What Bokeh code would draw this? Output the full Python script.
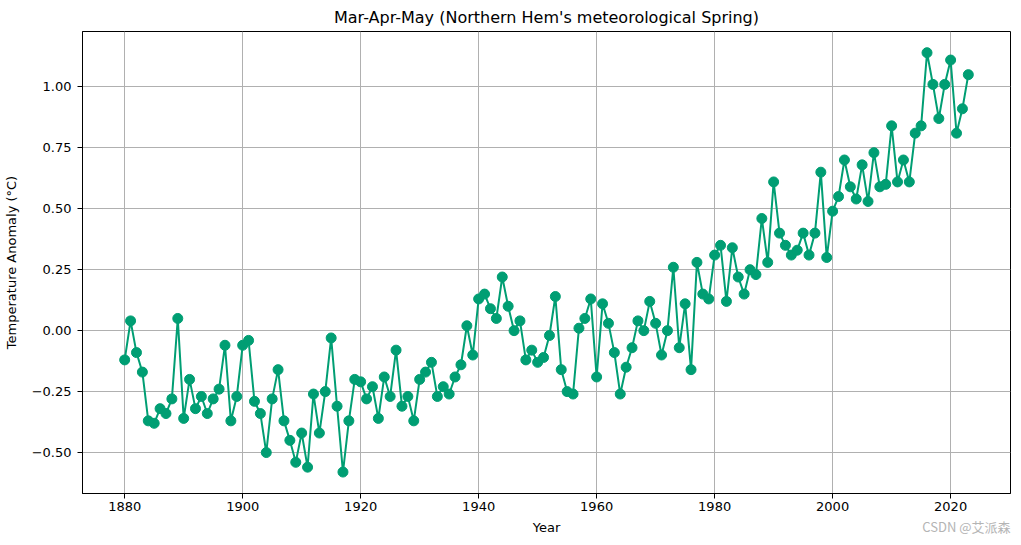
from bokeh.plotting import figure
from bokeh.models import FixedTicker, Range1d, Title
from bokeh.embed import file_html
from bokeh.resources import INLINE

years = list(range(1880, 2024))
anomaly = [
    -0.12, 0.04, -0.09, -0.17, -0.37, -0.38, -0.32, -0.34, -0.28, 0.05,
    -0.36, -0.20, -0.32, -0.27, -0.34, -0.28, -0.24, -0.06, -0.37, -0.27,
    -0.06, -0.04, -0.29, -0.34, -0.50, -0.28, -0.16, -0.37, -0.45, -0.54,
    -0.42, -0.56, -0.26, -0.42, -0.25, -0.03, -0.31, -0.58, -0.37, -0.20,
    -0.21, -0.28, -0.23, -0.36, -0.19, -0.27, -0.08, -0.31, -0.27, -0.37,
    -0.20, -0.17, -0.13, -0.27, -0.23, -0.26, -0.19, -0.14, 0.02, -0.10,
    0.13, 0.15, 0.09, 0.05, 0.22, 0.10, 0.00, 0.04, -0.12, -0.08,
    -0.13, -0.11, -0.02, 0.14, -0.16, -0.25, -0.26, 0.01, 0.05, 0.13,
    -0.19, 0.11, 0.03, -0.09, -0.26, -0.15, -0.07, 0.04, 0.00, 0.12,
    0.03, -0.10, 0.00, 0.26, -0.07, 0.11, -0.16, 0.28, 0.15, 0.13,
    0.31, 0.35, 0.12, 0.34, 0.22, 0.15, 0.25, 0.23, 0.46, 0.28,
    0.61, 0.40, 0.35, 0.31, 0.33, 0.40, 0.31, 0.40, 0.65, 0.30,
    0.49, 0.55, 0.70, 0.59, 0.54, 0.68, 0.53, 0.73, 0.59, 0.60,
    0.84, 0.61, 0.70, 0.61, 0.81, 0.84, 1.14, 1.01, 0.87, 1.01,
    1.11, 0.81, 0.91, 1.05,
]
x_ticks = [1880, 1900, 1920, 1940, 1960, 1980, 2000, 2020]
y_ticks = [-0.50, -0.25, 0.00, 0.25, 0.50, 0.75, 1.00]

FONT = "DejaVu Sans"
GREEN = "#009E73"

p = figure(frame_width=928, frame_height=462, output_backend="svg", toolbar_location=None,
           title="Mar-Apr-May (Northern Hem's meteorological Spring)",
           x_range=Range1d(1872.85, 2030.15), y_range=Range1d(-0.668, 1.227),
           min_border_left=75, min_border_right=2, min_border_top=22, min_border_bottom=45)

p.title.align = "center"
p.title.text_font = FONT
p.title.text_font_size = "16px"
p.title.text_font_style = "normal"
p.title.text_color = "black"

p.outline_line_color = "black"
p.outline_line_alpha = 1
p.outline_line_width = 1
p.background_fill_color = "white"
p.border_fill_color = "white"

for ax in (p.xaxis[0], p.yaxis[0]):
    ax.axis_line_color = "black"
    ax.major_tick_out = 5
    ax.major_tick_in = 0
    ax.minor_tick_out = 0
    ax.minor_tick_in = 0
    ax.major_tick_line_color = "black"
    ax.major_label_text_font = FONT
    ax.major_label_text_font_size = "13px"
    ax.major_label_text_color = "black"
    ax.axis_label_text_font = FONT
    ax.axis_label_text_font_size = "13px"
    ax.axis_label_text_font_style = "normal"
    ax.axis_label_text_color = "black"

p.xaxis.ticker = FixedTicker(ticks=x_ticks)
p.yaxis.ticker = FixedTicker(ticks=y_ticks)
p.xaxis.major_label_overrides = {t: str(t) for t in x_ticks}
p.yaxis.major_label_overrides = {t: ("%.2f" % t).replace("-", "\u2212") for t in y_ticks}
p.xaxis.axis_label = "Year"
p.yaxis.axis_label = "Temperature Anomaly (°C)"
p.xaxis.major_label_standoff = 3
p.xaxis.axis_label_standoff = 6
p.yaxis.major_label_standoff = 6
p.yaxis.axis_label_standoff = 10

p.grid.grid_line_color = "#b0b0b0"
p.grid.grid_line_width = 1
p.grid.grid_line_alpha = 1

p.line(years, anomaly, line_color=GREEN, line_width=2)
p.scatter(years, anomaly, size=10, fill_color=GREEN, line_color=GREEN)

wm = Title(text="CSDN @艾派森", align="right", vertical_align="top", standoff=-41,
           text_font="Noto Sans CJK SC", text_font_size="13px",
           text_font_style="normal", text_color="#b4b4b4")
p.add_layout(wm, "below")

open("out.html", "w").write(file_html(p, INLINE))
